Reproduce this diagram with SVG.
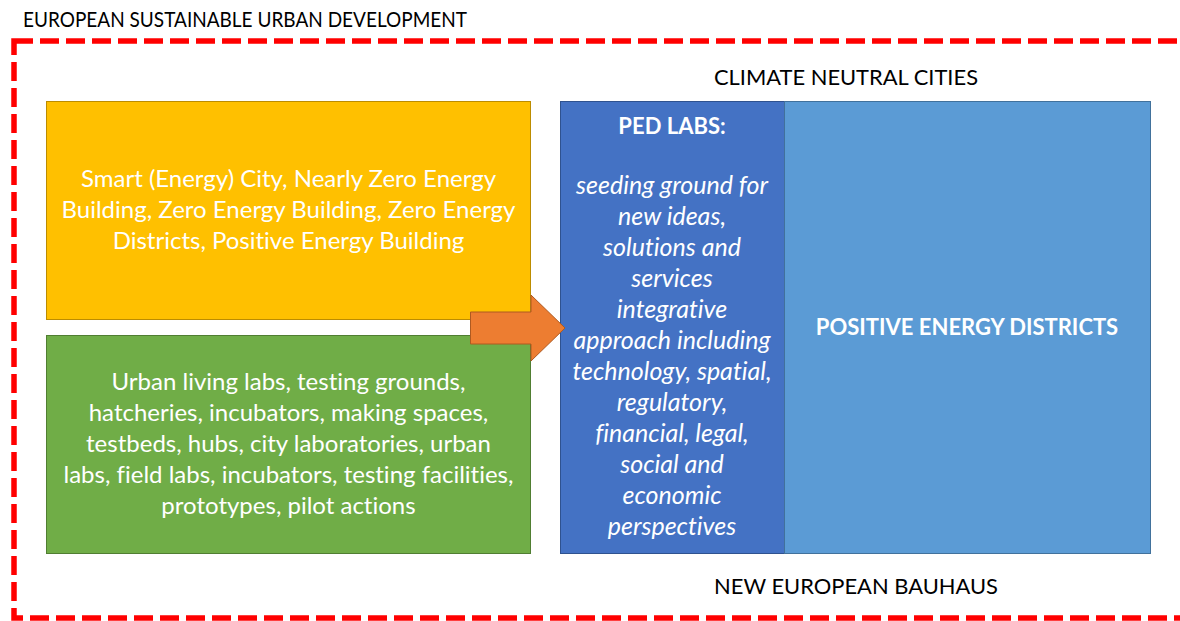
<svg xmlns="http://www.w3.org/2000/svg" width="1180" height="621" viewBox="0 0 1180 621">
<style>
text { font-family: Lato, "Open Sans", "Liberation Sans", sans-serif; font-variant-ligatures: none; }
.lbl { font-size: 21px; fill: #000; }
.body { font-size: 24px; fill: #fff; text-anchor: middle; }
.it { font-style: italic; font-size: 25px; }
.b { font-weight: bold; font-size: 22px; }
</style>
<rect width="1180" height="621" fill="#fff"/>
<g id="frame">
<rect x="14" y="41" width="1172" height="577" fill="none" stroke="#FF0000" stroke-width="5.5" stroke-dasharray="19 7"/>
<text class="lbl" x="23" y="27" textLength="444" lengthAdjust="spacingAndGlyphs">EUROPEAN SUSTAINABLE URBAN DEVELOPMENT</text>
</g>
<g id="climate-label"><text class="lbl" x="714" y="85" textLength="264" lengthAdjust="spacingAndGlyphs">CLIMATE NEUTRAL CITIES</text></g>
<g id="bauhaus-label"><text class="lbl" x="714" y="594" textLength="284" lengthAdjust="spacingAndGlyphs">NEW EUROPEAN BAUHAUS</text></g>
<g id="smart">
<rect x="46.5" y="101.5" width="484" height="218" fill="#FFC000" stroke="#BC8C00" stroke-width="1"/>
<text class="body" x="288.5" y="187">Smart (Energy) City, Nearly Zero Energy</text>
<text class="body" x="288.5" y="218">Building, Zero Energy Building, Zero Energy</text>
<text class="body" x="288.5" y="249">Districts, Positive Energy Building</text>
</g>
<g id="labs">
<rect x="46.5" y="335.5" width="484" height="218" fill="#70AD47" stroke="#507E32" stroke-width="1"/>
<text class="body" x="288.5" y="390">Urban living labs, testing grounds,</text>
<text class="body" x="288.5" y="421">hatcheries, incubators, making spaces,</text>
<text class="body" x="288.5" y="452">testbeds, hubs, city laboratories, urban</text>
<text class="body" x="288.5" y="483">labs, field labs, incubators, testing facilities,</text>
<text class="body" x="288.5" y="514">prototypes, pilot actions</text>
</g>
<g id="ped">
<rect x="560.5" y="101.5" width="224" height="452" fill="#4472C4" stroke="#2F528F" stroke-width="1"/>
<text class="body b" x="672" y="134">PED LABS:</text>
<text class="body it" x="672" y="194">seeding ground for</text>
<text class="body it" x="672" y="225">new ideas,</text>
<text class="body it" x="672" y="256">solutions and</text>
<text class="body it" x="672" y="287">services</text>
<text class="body it" x="672" y="318">integrative</text>
<text class="body it" x="672" y="349">approach including</text>
<text class="body it" x="672" y="380">technology, spatial,</text>
<text class="body it" x="672" y="411">regulatory,</text>
<text class="body it" x="672" y="442">financial, legal,</text>
<text class="body it" x="672" y="473">social and</text>
<text class="body it" x="672" y="504">economic</text>
<text class="body it" x="672" y="535">perspectives</text>
</g>
<g id="ped-districts">
<rect x="784.5" y="101.5" width="366" height="452" fill="#5B9BD5" stroke="#41719C" stroke-width="1"/>
<text class="body b" x="967" y="335">POSITIVE ENERGY DISTRICTS</text>
</g>
<g id="connectors">
<polygon points="470.5,312 531,312 531,295 565,328 531,361 531,344 470.5,344" fill="#ED7D31" stroke="#AE5A21" stroke-width="1"/>
</g>
</svg>
